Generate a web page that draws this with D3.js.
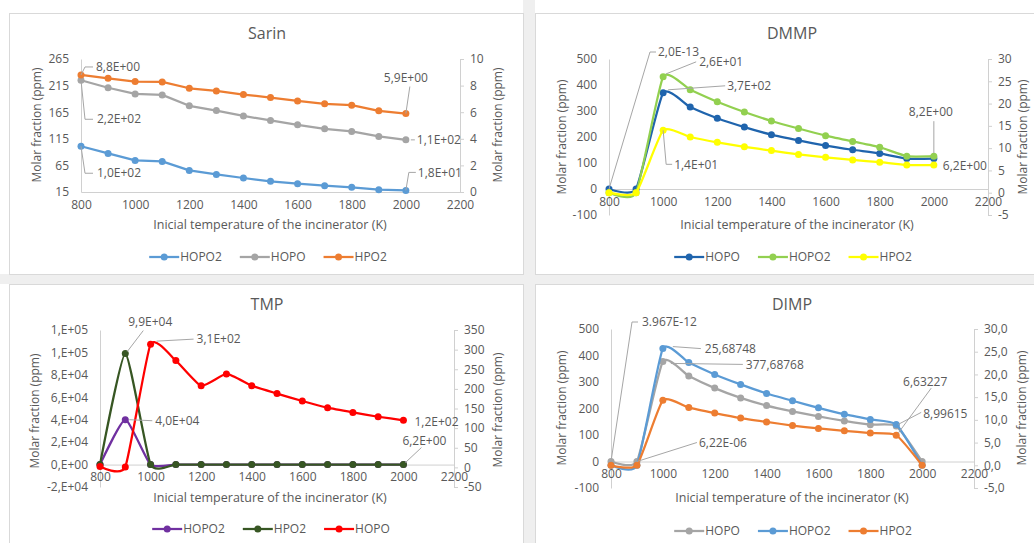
<!DOCTYPE html>
<html><head><meta charset="utf-8">
<script src="https://cdn.jsdelivr.net/npm/d3@7"></script>
<style>body{margin:0;background:#fff;} svg text{font-family:"Open Sans",sans-serif;}</style>
</head><body><svg id="c" width="1034" height="543"></svg>
<script>
// ---------------- DATA ----------------
const temps = [800,900,1000,1100,1200,1300,1400,1500,1600,1700,1800,1900,2000];
const xTicks = [800,1000,1200,1400,1600,1800,2000,2200];

// Sarin
const sarinHOPO2 = [101,87.5,74.4,72.5,55.6,48.1,41.3,35,30.6,26.9,23.8,19.4,18];
const sarinHOPO  = [225,211,199.4,197.5,177,168,158,149.5,141.3,133.8,128.8,119.4,113];
const sarinHPO2  = [8.8,8.55,8.3,8.28,7.8,7.6,7.33,7.1,6.85,6.63,6.53,6.1,5.9];
const sarinLeftTicks = [15,65,115,165,215,265];
const sarinRightTicks = [0,2,4,6,8,10];

// DMMP
const dmmpHOPO  = [0,0,370,315,272,238,209,187,167,151,137,117,117];
const dmmpHOPO2 = [0,0,26,23.1,20.4,18.1,16.1,14.4,12.8,11.5,10.2,8.2,8.2];
const dmmpHPO2  = [0,0,14,12.5,11.3,10.3,9.45,8.6,7.95,7.35,6.85,6.2,6.2];
const dmmpLeftTicks = [-100,0,100,200,300,400,500];
const dmmpRightTicks = [-5,0,5,10,15,20,25,30];

// TMP
const tmpHOPO2 = [0,40000,0,0,0,0,0,0,0,0,0,0,0];
const tmpHPO2  = [0,99000,50,12,11,10,9.5,9,8.5,8,7,6.6,6.2];
const tmpHOPO  = [2,1,314,272,208,238,208,188,169,152,140,129,120];
const tmpLeftTicks = [-20000,0,20000,40000,60000,80000,100000,120000];
const tmpLeftTickLabels = ["-2,E+04","0,E+00","2,E+04","4,E+04","6,E+04","8,E+04","1,E+05","1,E+05"];
const tmpRightTicks = [-50,0,50,100,150,200,250,300,350];

// DIMP
const dimpHOPO  = [0,0,377.7,323,277,240,211,189,170,153,139,134,0];
const dimpHOPO2 = [0,0,25.69,22.6,20,17.8,15.8,14.2,12.65,11.25,10.1,9.0,0];
const dimpHPO2  = [0,0,14.3,12.7,11.5,10.4,9.55,8.75,8.1,7.6,7.1,6.63,0];
const dimpLeftTicks = [-100,0,100,200,300,400,500];
const dimpRightTicks = [-5,0,5,10,15,20,25,30];

const xTitle = "Inicial temperature of the incinerator (K)";
const yTitle = "Molar fraction (ppm)";

// ---------------- DRAW ----------------
const svg = d3.select("#c");
const TXT = "#595959", AX = "#d0d0d0", LEAD = "#a6a6a6";
const FS = 12;

svg.append("rect").attr("x",0).attr("y",0).attr("width",1034).attr("height",543).attr("fill","#ffffff");
svg.append("rect").attr("x",523).attr("y",0).attr("width",12).attr("height",543).attr("fill","#efefef");
svg.append("rect").attr("x",0).attr("y",274).attr("width",1034).attr("height",10).attr("fill","#efefef");

const fmtComma1 = d => d.toFixed(1).replace(".", ",");
const smooth = d3.curveCardinal.tension(0.5);

const panels = [
  {
    title:"Sarin", rect:[9,13,514,261], xr:[81,460],
    yL:{dom:[15,265], rng:[192,59], ticks:sarinLeftTicks, fmt:d=>d},
    yR:{dom:[0,10], rng:[192,59], ticks:sarinRightTicks, fmt:d=>d},
    xAxisVal:15, curve:d3.curveLinear,
    titlePos:[267,33], lTitle:[37,125], rTitle:[498,125], xTitlePos:[270,225], legendY:257, legendCx:268,
    series:[
      {name:"HOPO2", vals:sarinHOPO2, color:"#5b9bd5", axis:"L"},
      {name:"HOPO",  vals:sarinHOPO,  color:"#a5a5a5", axis:"L"},
      {name:"HPO2",  vals:sarinHPO2,  color:"#ed7d31", axis:"R"}
    ],
    legend:["HOPO2","HOPO","HPO2"],
    labels:[
      {s:"HPO2", i:0, text:"8,8E+00", dx:15, dy:-8, anchor:"start", lead:[[0,0],[4,-8],[12,-8]]},
      {s:"HOPO", i:0, text:"2,2E+02", dx:16, dy:39, anchor:"start", lead:[[0,0],[4,39],[12,39]]},
      {s:"HOPO2", i:0, text:"1,0E+02", dx:16, dy:27, anchor:"start", lead:[[0,0],[4,27],[12,27]]},
      {s:"HPO2", i:12, text:"5,9E+00", dx:0, dy:-36, anchor:"middle", lead:[[0,0],[4,-27]]},
      {s:"HOPO", i:12, text:"1,1E+02", dx:11, dy:0, anchor:"start", lead:[[5,0],[9,0]]},
      {s:"HOPO2", i:12, text:"1,8E+01", dx:12, dy:-18, anchor:"start", lead:[[0,0],[3,-18],[10,-18]]}
    ]
  },
  {
    title:"DMMP", rect:[535,13,505,261], xr:[609,988],
    yL:{dom:[-100,500], rng:[215,59], ticks:dmmpLeftTicks, fmt:d=>d},
    yR:{dom:[-5,30], rng:[215,59], ticks:dmmpRightTicks, fmt:d=>d},
    xAxisVal:0, curve:smooth,
    titlePos:[792,33], lTitle:[562,137], rTitle:[1023,137], xTitlePos:[797,225], legendY:257, legendCx:793,
    series:[
      {name:"HOPO",  vals:dmmpHOPO,  color:"#1f64ad", axis:"L"},
      {name:"HOPO2", vals:dmmpHOPO2, color:"#92d050", axis:"R"},
      {name:"HPO2",  vals:dmmpHPO2,  color:"#ffff00", axis:"R"}
    ],
    legend:["HOPO","HOPO2","HPO2"],
    labels:[
      {s:"HOPO", i:0, text:"2,0E-13", dx:49, dy:-137, anchor:"start", lead:[[0,0],[41,-137],[47,-137]]},
      {s:"HOPO2", i:2, text:"2,6E+01", dx:36, dy:-15, anchor:"start", lead:[[3,-3],[33,-15]]},
      {s:"HOPO", i:2, text:"3,7E+02", dx:64, dy:-7, anchor:"start", lead:[[5,-3],[62,-7]]},
      {s:"HPO2", i:2, text:"1,4E+01", dx:11, dy:34, anchor:"start", lead:[[0,0],[3,34],[9,34]]},
      {s:"HOPO2", i:12, text:"8,2E+00", dx:-3, dy:-44, anchor:"middle", lead:[[0,-3],[0,-35]]},
      {s:"HPO2", i:12, text:"6,2E+00", dx:9, dy:1, anchor:"start", lead:[]}
    ]
  },
  {
    title:"TMP", rect:[9,284,514,265], xr:[100,454],
    yL:{dom:[-20000,120000], rng:[487,330], ticks:tmpLeftTicks, fmt:(d,i)=>tmpLeftTickLabels[i]},
    yR:{dom:[-50,350], rng:[487,330], ticks:tmpRightTicks, fmt:d=>d},
    xAxisVal:0, curve:smooth,
    titlePos:[267,304], lTitle:[35,411], rTitle:[498,410], xTitlePos:[270,498], legendY:529, legendCx:271,
    series:[
      {name:"HOPO2", vals:tmpHOPO2, color:"#7030a0", axis:"L"},
      {name:"HPO2",  vals:tmpHPO2,  color:"#375623", axis:"L"},
      {name:"HOPO",  vals:tmpHOPO,  color:"#ff0000", axis:"R"}
    ],
    legend:["HOPO2","HPO2","HOPO"],
    labels:[
      {s:"HPO2", i:1, text:"9,9E+04", dx:25, dy:-32, anchor:"middle", lead:[[2,-2],[18,-23]]},
      {s:"HOPO2", i:1, text:"4,0E+04", dx:30, dy:1, anchor:"start", lead:[[4,0],[27,1]]},
      {s:"HOPO", i:2, text:"3,1E+02", dx:46, dy:-5, anchor:"start", lead:[[6,-3],[43,-5]]},
      {s:"HOPO", i:12, text:"1,2E+02", dx:11, dy:2, anchor:"start", lead:[]},
      {s:"HPO2", i:12, text:"6,2E+00", dx:21, dy:-24, anchor:"middle", lead:[[2,-2],[18,-17]]}
    ]
  },
  {
    title:"DIMP", rect:[535,284,505,265], xr:[611,974],
    yL:{dom:[-100,500], rng:[488,329], ticks:dimpLeftTicks, fmt:d=>d},
    yR:{dom:[-5,30], rng:[488,329], ticks:dimpRightTicks, fmt:fmtComma1},
    xAxisVal:0, curve:smooth,
    titlePos:[792,304], lTitle:[562,408], rTitle:[1022,408], xTitlePos:[792,498], legendY:531, legendCx:793,
    series:[
      {name:"HOPO",  vals:dimpHOPO,  color:"#a5a5a5", axis:"L"},
      {name:"HOPO2", vals:dimpHOPO2, color:"#5b9bd5", axis:"R"},
      {name:"HPO2",  vals:dimpHPO2,  color:"#ed7d31", axis:"R"}
    ],
    legend:["HOPO","HOPO2","HPO2"],
    labels:[
      {s:"HOPO", i:0, text:"3.967E-12", dx:31, dy:-139.5, anchor:"start", lead:[[0,0],[21,-139.5],[27,-139.5]]},
      {s:"HOPO2", i:2, text:"25,68748", dx:42, dy:0, anchor:"start", lead:[[10,-2],[38,0]]},
      {s:"HOPO", i:2, text:"377,68768", dx:83, dy:3, anchor:"start", lead:[[8,2],[80,3]]},
      {s:"HPO2", i:11, text:"6,63227", dx:29, dy:-53, anchor:"middle", lead:[[2,-2],[35,-47]]},
      {s:"HOPO2", i:11, text:"8,99615", dx:27, dy:-11, anchor:"start", lead:[[2,0],[25,-12]]},
      {s:"HOPO", i:1, text:"6,22E-06", dx:62, dy:-19, anchor:"start", lead:[[0,0],[60,-19]]}
    ]
  }
];

function styleAxis(g){
  g.attr("font-family", '"Open Sans", sans-serif').attr("font-size", FS);
  g.selectAll("path.domain").attr("stroke", AX);
  g.selectAll(".tick line").attr("stroke", AX);
  g.selectAll(".tick text").attr("fill", TXT);
}

panels.forEach(p => {
  const g = svg.append("g");
  g.append("rect").attr("x",p.rect[0]+0.5).attr("y",p.rect[1]+0.5)
    .attr("width",p.rect[2]).attr("height",p.rect[3])
    .attr("fill","#fff").attr("stroke","#d9d9d9");

  const x = d3.scaleLinear().domain([800,2200]).range(p.xr);
  const yL = d3.scaleLinear().domain(p.yL.dom).range(p.yL.rng);
  const yR = d3.scaleLinear().domain(p.yR.dom).range(p.yR.rng);

  g.append("g").attr("transform",`translate(${p.xr[0]},0)`)
    .call(d3.axisLeft(yL).tickValues(p.yL.ticks).tickSize(0).tickPadding(12).tickFormat(p.yL.fmt))
    .call(styleAxis);
  g.append("g").attr("transform",`translate(${p.xr[1]},0)`)
    .call(d3.axisRight(yR).tickValues(p.yR.ticks).tickSizeInner(4).tickSizeOuter(4).tickPadding(6).tickFormat(p.yR.fmt))
    .call(styleAxis);
  const xAxisY = yL(p.xAxisVal);
  g.append("g").attr("transform",`translate(0,${xAxisY})`)
    .call(d3.axisBottom(x).tickValues(xTicks).tickSize(0).tickPadding(8).tickFormat(d=>String(d)))
    .call(styleAxis);

  g.append("text").attr("x",p.titlePos[0]).attr("y",p.titlePos[1]).attr("dy","0.35em")
    .attr("text-anchor","middle").attr("font-size",16).attr("fill",TXT).text(p.title);
  g.append("text").attr("transform",`translate(${p.lTitle[0]},${p.lTitle[1]}) rotate(-90)`).attr("dy","0.35em")
    .attr("text-anchor","middle").attr("font-size",FS).attr("fill",TXT).text(yTitle);
  g.append("text").attr("transform",`translate(${p.rTitle[0]},${p.rTitle[1]}) rotate(-90)`).attr("dy","0.35em")
    .attr("text-anchor","middle").attr("font-size",FS).attr("fill",TXT).text(yTitle);
  g.append("text").attr("x",p.xTitlePos[0]).attr("y",p.xTitlePos[1]).attr("dy","0.35em")
    .attr("text-anchor","middle").attr("font-size",12.5).attr("fill",TXT).text(xTitle);

  const ordered = p.series.filter(s=>s.axis==="L").concat(p.series.filter(s=>s.axis==="R"));
  const pos = {};
  ordered.forEach(s => {
    const ys = s.axis==="L" ? yL : yR;
    const pts = temps.map((t,i)=>[x(t), ys(s.vals[i])]);
    pos[s.name] = pts;
    g.append("path").attr("d", d3.line().curve(p.curve)(pts))
      .attr("fill","none").attr("stroke",s.color).attr("stroke-width",2.25).attr("stroke-linejoin","round");
    g.selectAll(null).data(pts).enter().append("circle")
      .attr("cx",d=>d[0]).attr("cy",d=>d[1]).attr("r",3.5).attr("fill",s.color);
  });

  p.labels.forEach(l => {
    const pt = pos[l.s][l.i];
    if (l.lead.length > 1) {
      g.append("path").attr("d", d3.line()(l.lead.map(o=>[pt[0]+o[0], pt[1]+o[1]])))
        .attr("fill","none").attr("stroke",LEAD).attr("stroke-width",1);
    }
    g.append("text").attr("x",pt[0]+l.dx).attr("y",pt[1]+l.dy).attr("dy","0.35em")
      .attr("text-anchor",l.anchor).attr("font-size",FS).attr("fill",TXT).text(l.text);
  });

  const lg = g.append("g");
  let cx = 0;
  p.legend.forEach(name => {
    const s = p.series.find(q=>q.name===name);
    const it = lg.append("g").attr("transform",`translate(${cx},0)`);
    it.append("line").attr("x1",0).attr("x2",30).attr("y1",0).attr("y2",0)
      .attr("stroke",s.color).attr("stroke-width",2.25);
    it.append("circle").attr("cx",15).attr("cy",0).attr("r",3.5).attr("fill",s.color);
    const t = it.append("text").attr("x",31).attr("dy","0.35em").attr("font-size",FS).attr("fill",TXT).text(name);
    cx += 31 + t.node().getComputedTextLength() + 18;
  });
  const w = cx - 18;
  lg.attr("transform",`translate(${p.legendCx - w/2},${p.legendY})`);
});
</script>
</body></html>
